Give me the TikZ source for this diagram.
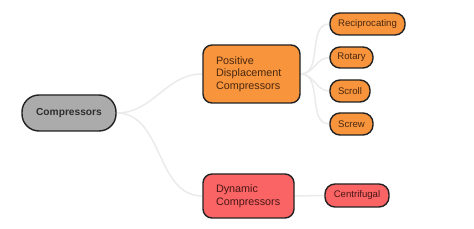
\documentclass[tikz,border=0pt]{standalone}
\usepackage{fontspec}
\setmainfont{Liberation Sans}
\usetikzlibrary{backgrounds}
\definecolor{orangefill}{HTML}{F7943C}
\definecolor{redfill}{HTML}{FA6464}
\definecolor{grayfill}{HTML}{ABABAB}
\definecolor{edgegray}{HTML}{EBEBEB}
\definecolor{bordercol}{HTML}{222222}
\definecolor{orangetext}{HTML}{4A2810}
\definecolor{redtext}{HTML}{4A1616}
\definecolor{graytext}{HTML}{2E2E2E}
\begin{document}
\begin{tikzpicture}[x=1pt,y=-1pt,
  box/.style={draw=bordercol,line width=1.4pt,inner sep=0pt,anchor=center},
  rootbox/.style={box,fill=grayfill,rounded corners=17pt,text=graytext,font=\fontsize{10.2}{12}\selectfont\bfseries},
  midorange/.style={box,fill=orangefill,rounded corners=9pt,text=orangetext,font=\fontsize{10.8}{12.6}\selectfont,align=left,inner xsep=13pt},
  midred/.style={box,fill=redfill,rounded corners=9pt,text=redtext,font=\fontsize{10.8}{12.6}\selectfont,align=left,inner xsep=13pt},
  leaforange/.style={box,fill=orangefill,rounded corners=10pt,text=orangetext,font=\fontsize{9.6}{11}\selectfont},
  leafred/.style={box,fill=redfill,rounded corners=10pt,text=redtext,font=\fontsize{9.6}{11}\selectfont},
  link/.style={draw=edgegray,line width=1.5pt}
]
\useasboundingbox (0,0) rectangle (474,229);
\node[rootbox,minimum width=94pt,minimum height=36pt] (root) at (69,113) {Compressors};
\node[midorange,text width=71pt,minimum width=97pt,minimum height=58pt] (pd) at (251.5,74) {Positive\\Displacement\\Compressors};
\node[midred,text width=65pt,minimum width=91pt,minimum height=44pt] (dyn) at (248.5,196) {Dynamic\\Compressors};
\node[leaforange,minimum width=75pt,minimum height=22pt] (rec) at (367.5,24) {Reciprocating};
\node[leaforange,minimum width=43pt,minimum height=21pt] (rot) at (351.5,57.5) {Rotary};
\node[leaforange,minimum width=40pt,minimum height=22pt] (scr) at (350,91) {Scroll};
\node[leaforange,minimum width=43pt,minimum height=22pt] (scw) at (351.5,124) {Screw};
\node[leafred,minimum width=64pt,minimum height=23pt] (cen) at (357,195.5) {Centrifugal};
\begin{scope}[on background layer]
\fill[white] (0,0) rectangle (474,229);
\draw[link] (root.east) to[out=0,in=180] (pd.west);
\draw[link] (root.east) to[out=0,in=180] (dyn.west);
\draw[link] (pd.east) to[out=0,in=180] (rec.west);
\draw[link] (pd.east) to[out=0,in=180] (rot.west);
\draw[link] (pd.east) to[out=0,in=180] (scr.west);
\draw[link] (pd.east) to[out=0,in=180] (scw.west);
\draw[link] (dyn.east) to[out=0,in=180] (cen.west);
\end{scope}
\end{tikzpicture}
\end{document}
